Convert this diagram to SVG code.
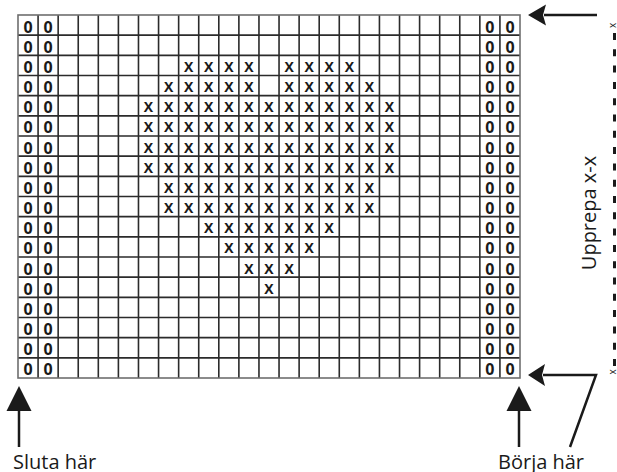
<svg xmlns="http://www.w3.org/2000/svg" width="617" height="472" viewBox="0 0 617 472">
<style>
.grid{fill:none;stroke:#2b2b2b;stroke-width:1.6}
.border{fill:none;stroke:#6e6e6e;stroke-width:1.6}
.z{font-family:"Open Sans","Liberation Sans",sans-serif;font-weight:700;font-size:16px;fill:#1a1a1a;text-anchor:middle}
.x{font-family:"Open Sans","Liberation Sans",sans-serif;font-weight:700;font-size:14px;fill:#1a1a1a;text-anchor:middle}
.lbl{font-family:"Open Sans","Liberation Sans",sans-serif;font-size:20px;fill:#1a1a1a}
.sm{font-family:"Open Sans","Liberation Sans",sans-serif;font-size:10px;fill:#1a1a1a;text-anchor:middle}
.ln{fill:none;stroke:#1a1a1a;stroke-width:2.5;stroke-linejoin:miter}
.ah{fill:#1a1a1a}
.dash{fill:none;stroke:#1a1a1a;stroke-width:3;stroke-dasharray:7 9.3}
</style>
<g id="grid">
<path class="grid" d="M38.08 15V378M58.16 15V378M78.24 15V378M98.32 15V378M118.4 15V378M138.48 15V378M158.56 15V378M178.64 15V378M198.72 15V378M218.8 15V378M238.88 15V378M258.96 15V378M279.04 15V378M299.12 15V378M319.2 15V378M339.28 15V378M359.36 15V378M379.44 15V378M399.52 15V378M419.6 15V378M439.68 15V378M459.76 15V378M479.84 15V378M499.92 15V378M18 35.17H520M18 55.33H520M18 75.5H520M18 95.67H520M18 115.83H520M18 136H520M18 156.17H520M18 176.33H520M18 196.5H520M18 216.67H520M18 236.83H520M18 257H520M18 277.17H520M18 297.33H520M18 317.5H520M18 337.67H520M18 357.83H520"/>
<rect class="border" x="18" y="15" width="502" height="363"/>
</g>
<g id="edge-stitches">
<text class="z" x="28.04 48.12 489.88 509.96" y="32.6">0000</text>
<text class="z" x="28.04 48.12 489.88 509.96" y="52.77">0000</text>
<text class="z" x="28.04 48.12 489.88 509.96" y="72.93">0000</text>
<text class="z" x="28.04 48.12 489.88 509.96" y="93.1">0000</text>
<text class="z" x="28.04 48.12 489.88 509.96" y="113.27">0000</text>
<text class="z" x="28.04 48.12 489.88 509.96" y="133.43">0000</text>
<text class="z" x="28.04 48.12 489.88 509.96" y="153.6">0000</text>
<text class="z" x="28.04 48.12 489.88 509.96" y="173.77">0000</text>
<text class="z" x="28.04 48.12 489.88 509.96" y="193.93">0000</text>
<text class="z" x="28.04 48.12 489.88 509.96" y="214.1">0000</text>
<text class="z" x="28.04 48.12 489.88 509.96" y="234.27">0000</text>
<text class="z" x="28.04 48.12 489.88 509.96" y="254.43">0000</text>
<text class="z" x="28.04 48.12 489.88 509.96" y="274.6">0000</text>
<text class="z" x="28.04 48.12 489.88 509.96" y="294.77">0000</text>
<text class="z" x="28.04 48.12 489.88 509.96" y="314.93">0000</text>
<text class="z" x="28.04 48.12 489.88 509.96" y="335.1">0000</text>
<text class="z" x="28.04 48.12 489.88 509.96" y="355.27">0000</text>
<text class="z" x="28.04 48.12 489.88 509.96" y="375.43">0000</text>
</g>
<g id="heart">
<text class="x" x="188.68 208.76 228.84 248.92 289.08 309.16 329.24 349.32" y="71.83">XXXXXXXX</text>
<text class="x" x="168.6 188.68 208.76 228.84 248.92 289.08 309.16 329.24 349.32 369.4" y="92">XXXXXXXXXX</text>
<text class="x" x="148.52 168.6 188.68 208.76 228.84 248.92 269 289.08 309.16 329.24 349.32 369.4 389.48" y="112.17">XXXXXXXXXXXXX</text>
<text class="x" x="148.52 168.6 188.68 208.76 228.84 248.92 269 289.08 309.16 329.24 349.32 369.4 389.48" y="132.33">XXXXXXXXXXXXX</text>
<text class="x" x="148.52 168.6 188.68 208.76 228.84 248.92 269 289.08 309.16 329.24 349.32 369.4 389.48" y="152.5">XXXXXXXXXXXXX</text>
<text class="x" x="148.52 168.6 188.68 208.76 228.84 248.92 269 289.08 309.16 329.24 349.32 369.4 389.48" y="172.67">XXXXXXXXXXXXX</text>
<text class="x" x="168.6 188.68 208.76 228.84 248.92 269 289.08 309.16 329.24 349.32 369.4" y="192.83">XXXXXXXXXXX</text>
<text class="x" x="168.6 188.68 208.76 228.84 248.92 269 289.08 309.16 329.24 349.32 369.4" y="213">XXXXXXXXXXX</text>
<text class="x" x="208.76 228.84 248.92 269 289.08 309.16 329.24" y="233.17">XXXXXXX</text>
<text class="x" x="228.84 248.92 269 289.08 309.16" y="253.33">XXXXX</text>
<text class="x" x="248.92 269 289.08" y="273.5">XXX</text>
<text class="x" x="269" y="293.67">X</text>
</g>
<g id="connectors">
<path class="ln" d="M544 15H597"/>
<polygon class="ah" points="528,15 546,4.5 543,15 546,25.5"/>
<path class="ln" d="M543 375H596L570 447"/>
<polygon class="ah" points="528,375 545,364 542,375 545,386"/>
<path class="ln" d="M19 409V447"/>
<polygon class="ah" points="19,386 31.5,411 6.5,411"/>
<path class="ln" d="M519 409V447"/>
<polygon class="ah" points="519,386 531.5,411 506.5,411"/>
<path class="dash" d="M614.5 33V370"/>
</g>
<g id="labels">
<text class="lbl" x="13" y="469">Sluta här</text>
<text class="lbl" x="498" y="469">Börja här</text>
<text class="lbl" transform="translate(596,213) rotate(-90)" text-anchor="middle">Upprepa x-x</text>
<text class="sm" transform="translate(616,25.5) rotate(-90)">x</text>
<text class="sm" transform="translate(616,372) rotate(-90)">x</text>
</g>
</svg>
